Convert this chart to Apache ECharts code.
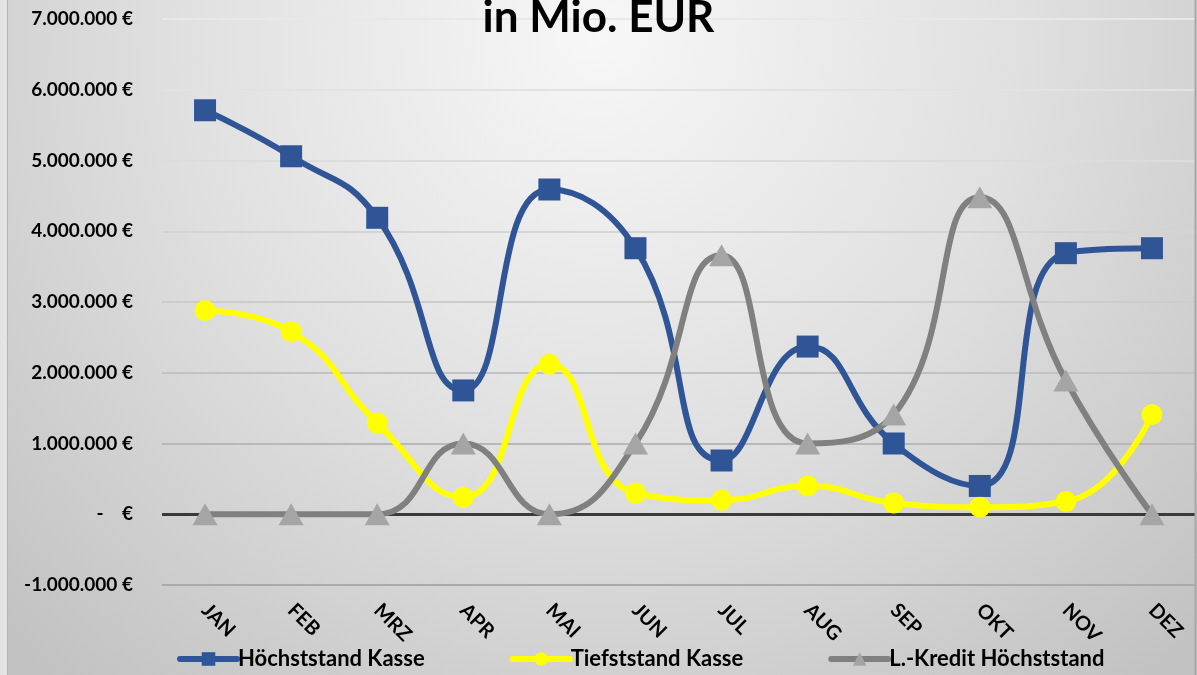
<!DOCTYPE html>
<html>
<head>
<meta charset="utf-8">
<script src="https://cdn.jsdelivr.net/npm/echarts@6/dist/echarts.min.js"></script>
<style>
html,body{margin:0;padding:0;background:#e2e2e2;}
#main{width:1197px;height:675px;}
</style>
</head>
<body>
<div id="main"></div>
<script>
// Monate
var months = ['JAN','FEB','MRZ','APR','MAI','JUN','JUL','AUG','SEP','OKT','NOV','DEZ'];
// Werte aus dem Bild geschaetzt
var hoechstKasse = [5710000, 5060000, 4190000, 1750000, 4590000, 3760000, 760000, 2370000, 1000000, 400000, 3690000, 3760000];
var tiefKasse = [2880000, 2580000, 1290000, 240000, 2120000, 300000, 200000, 400000, 160000, 100000, 180000, 1410000];
var kreditHoechst = [0, 0, 0, 1000000, 0, 1000000, 3660000, 1000000, 1410000, 4480000, 1890000, 0];
var seriesNames = ['Höchststand Kasse', 'Tiefststand Kasse', 'L.-Kredit Höchststand'];

var FONT = 'Lato';

function euro(v) {
	if (v === 0) return '-    €';
	var s = Math.abs(v).toString().replace(/\B(?=(\d{3})+(?!\d))/g, '.');
	return (v < 0 ? '-' : '') + s + ' €';
}

var myChart = echarts.init(document.getElementById('main'));
var option = {
	backgroundColor: {
		type: 'radial', x: 0.5, y: 0.05, r: 1.25,
		colorStops: [
			{offset: 0, color: '#f7f7f7'},
			{offset: 0.5, color: '#e0e0e0'},
			{offset: 1, color: '#c2c2c2'}
		]
	},
	textStyle: {fontFamily: FONT},
	title: {
		text: 'in Mio. EUR',
		left: 'center',
		top: -9,
		textStyle: {fontFamily: FONT, fontSize: 44, fontWeight: 'bold', color: '#000'}
	},
	graphic: [
		{type: 'rect', shape: {x: 0, y: 0, width: 7, height: 675}, style: {fill: '#e4e4e4'}, z: 100},
		{type: 'line', shape: {x1: 7.5, y1: 0, x2: 7.5, y2: 675}, style: {stroke: '#b4b4b4', lineWidth: 1}, z: 100},
		{type: 'line', shape: {x1: 1195.5, y1: 0, x2: 1195.5, y2: 675}, style: {stroke: '#a8a8a8', lineWidth: 2}, z: 100}
	],
	legend: {
		data: seriesNames,
		bottom: 0,
		left: 172,
		itemWidth: 57,
		itemHeight: 17,
		itemGap: 85,
		lineStyle: {width: 6, cap: 'round'},
		textStyle: {fontFamily: FONT, fontSize: 22, fontWeight: 'bold', color: '#000', padding: [0, 0, 0, -4]}
	},
	grid: {
		left: 162,
		right: 2,
		top: 19,
		bottom: 90
	},
	xAxis: {
		type: 'category',
		data: months,
		boundaryGap: true,
		axisLine: {show: false, onZero: false},
		axisTick: {show: false},
		axisLabel: {
			rotate: -45,
			margin: 22,
			fontFamily: FONT,
			fontSize: 20,
			fontWeight: 'bold',
			color: '#000'
		}
	},
	yAxis: {
		type: 'value',
		min: -1000000,
		max: 7000000,
		interval: 1000000,
		axisLine: {show: false},
		axisTick: {show: false},
		axisLabel: {
			margin: 29,
			fontFamily: FONT,
			fontSize: 19,
			fontWeight: 'bold',
			color: '#000',
			formatter: euro
		},
		splitLine: {
			lineStyle: {
				width: 2,
				color: ['#aaaaaa', 'rgba(0,0,0,0)', '#b8b8b8', '#c2c2c2', '#cccccc', '#d4d4d4', '#dcdcdc', '#e2e2e2', '#e8e8e8']
			}
		}
	},
	series: [
		{
			name: seriesNames[0],
			type: 'line',
			smooth: 0.5,
			data: hoechstKasse,
			symbol: 'rect',
			symbolSize: 22,
			lineStyle: {width: 6, color: '#2f5597'},
			itemStyle: {color: '#2f5597'},
			markLine: {
				silent: true,
				symbol: 'none',
				label: {show: false},
				lineStyle: {color: '#3a3a3a', width: 3, type: 'solid'},
				data: [{yAxis: 0}],
				z: 1
			}
		},
		{
			name: seriesNames[1],
			type: 'line',
			smooth: 0.5,
			data: tiefKasse,
			symbol: 'circle',
			symbolSize: 21,
			lineStyle: {width: 6, color: '#ffff00'},
			itemStyle: {color: '#ffff00'}
		},
		{
			name: seriesNames[2],
			type: 'line',
			smooth: 0.5,
			data: kreditHoechst,
			symbol: 'triangle',
			symbolSize: [25, 22],
			lineStyle: {width: 6, color: '#808080'},
			itemStyle: {color: '#a5a5a5'}
		}
	]
};
myChart.setOption(option);
</script>
</body>
</html>
